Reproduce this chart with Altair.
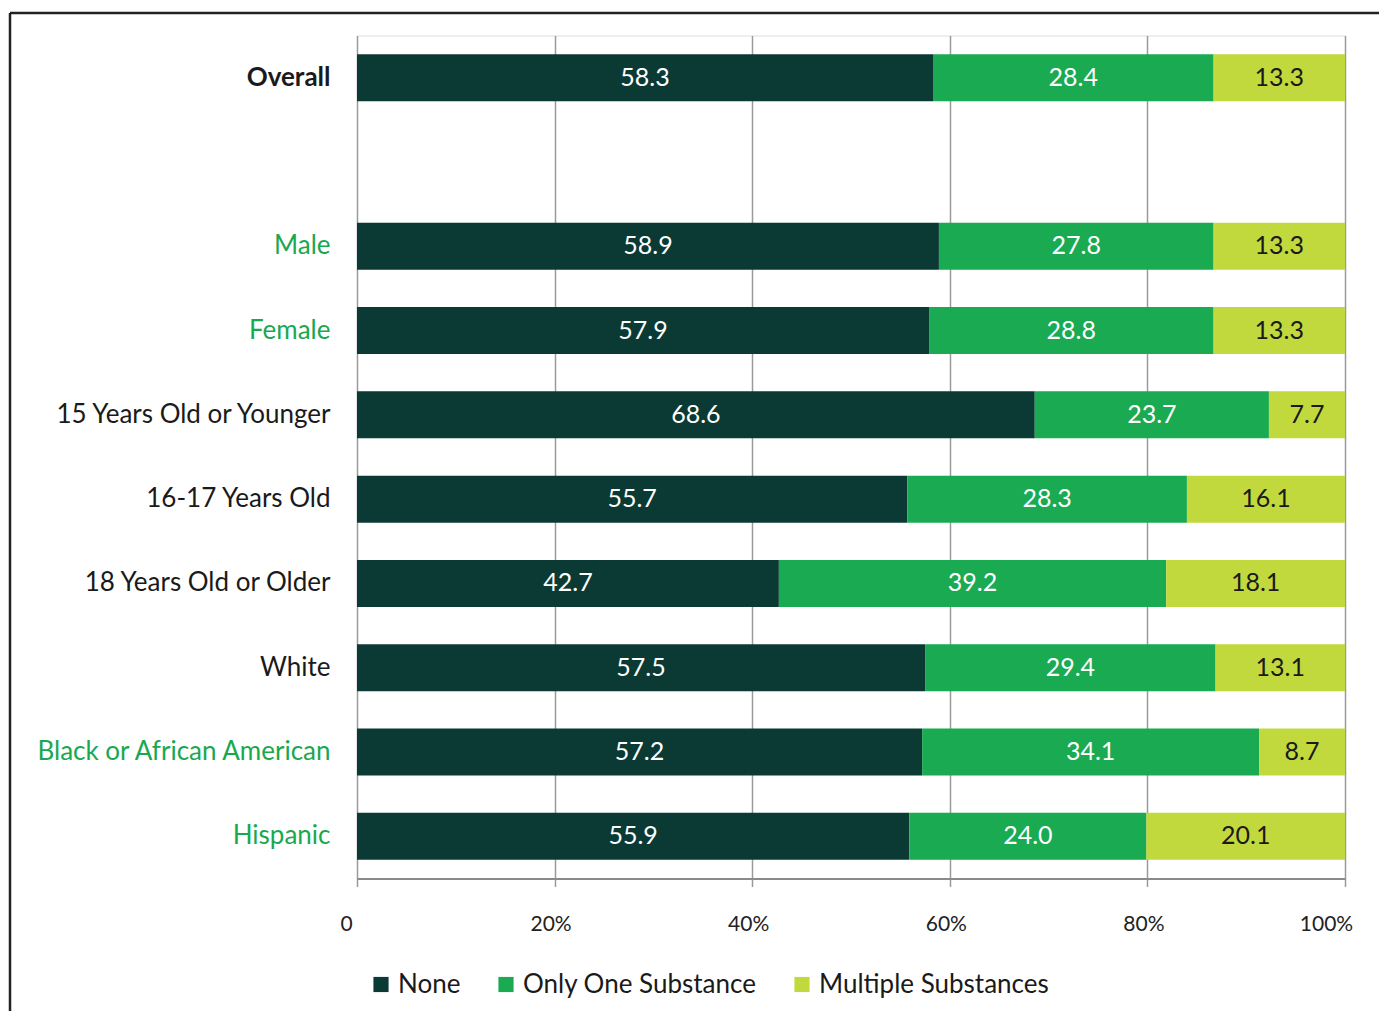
import altair as alt
import pandas as pd

categories = ["Overall", " ", "Male", "Female", "15 Years Old or Younger",
              "16-17 Years Old", "18 Years Old or Older", "White",
              "Black or African American", "Hispanic"]
data_categories = ["Overall", "Male", "Female", "15 Years Old or Younger",
                   "16-17 Years Old", "18 Years Old or Older", "White",
                   "Black or African American", "Hispanic"]
series = ["None", "Only One Substance", "Multiple Substances"]
none_vals = [58.3, 58.9, 57.9, 68.6, 55.7, 42.7, 57.5, 57.2, 55.9]
one_vals = [28.4, 27.8, 28.8, 23.7, 28.3, 39.2, 29.4, 34.1, 24.0]
multi_vals = [13.3, 13.3, 13.3, 7.7, 16.1, 18.1, 13.1, 8.7, 20.1]
tick_values = [0, 20, 40, 60, 80, 100]
colors = ["#0b3a35", "#19aa52", "#c2d93e"]
green_labels = ["Male", "Female", "Black or African American", "Hispanic"]

rows = []
for i, cat in enumerate(data_categories):
    for j, (s, vals) in enumerate(zip(series, [none_vals, one_vals, multi_vals])):
        rows.append({"category": cat, "type": s, "value": vals[i], "order": j})
df = pd.DataFrame(rows)

FONT = "Lato"

y_enc = alt.Y(
    "category:N",
    sort=categories,
    scale=alt.Scale(domain=categories, paddingInner=0.44, paddingOuter=0.22),
    axis=alt.Axis(
        title=None, domain=False, ticks=False, grid=False,
        labelFontSize=26, labelPadding=27, labelFont=FONT,
        labelLimit=400,
        labelColor=alt.condition(
            "indexof(" + str(green_labels) + ", datum.value) >= 0",
            alt.value("#1aa84f"), alt.value("#1a1a1a")),
        labelFontWeight=alt.condition(
            "datum.value == 'Overall'", alt.value("bold"), alt.value("normal")),
    ),
)

x_axis = alt.Axis(
    title=None, values=tick_values, labelFlush=False,
    labelExpr="datum.value == 0 ? '0' : datum.value + '%'",
    grid=True, gridColor="#9a9a9a", gridWidth=1.5,
    domainColor="#8a8a8a", domainWidth=2,
    tickColor="#9a9a9a", tickSize=8, tickWidth=1.5,
    labelFontSize=21, labelPadding=27, labelColor="#222222", labelFont=FONT,
    labelOffset={"condition": [{"test": "datum.value == 0", "value": -11},
                               {"test": "datum.value == 100", "value": -19}],
                 "value": -4},
)

bars = alt.Chart(df).mark_bar(clip=True, size=47).encode(
    x=alt.X("value:Q", stack="zero", scale=alt.Scale(domain=[0, 100]), axis=x_axis),
    y=y_enc,
    color=alt.Color(
        "type:N",
        scale=alt.Scale(domain=series, range=colors),
        legend=alt.Legend(
            title=None, orient="none", legendX=11, legendY=936,
            direction="horizontal", symbolType="square", symbolSize=230,
            symbolStrokeWidth=0, labelFontSize=26, labelFont=FONT, labelLimit=0,
            labelColor="#1a1a1a", columnPadding=32, labelOffset=4, padding=0,
        ),
    ),
    order=alt.Order("order:Q"),
)

labels = alt.Chart(df).transform_stack(
    stack="value", groupby=["category"], as_=["x0", "x1"],
    sort=[alt.SortField("order", order="ascending")],
).transform_calculate(
    mid="(datum.x0 + min(datum.x1, 100)) / 2"
).mark_text(fontSize=25, font=FONT, baseline="middle", align="center").encode(
    x=alt.X("mid:Q"),
    y=alt.Y("category:N", sort=categories),
    text=alt.Text("value:Q", format=".1f"),
    color=alt.condition(alt.datum.type == "Multiple Substances",
                        alt.value("#1a1a1a"), alt.value("white")),
)

frame_data = alt.Data(values=[{"k": 1}])
frame_top = alt.Chart(frame_data).mark_rule(color="#222222", strokeWidth=2.5).encode(
    x=alt.value(-347), x2=alt.value(1100), y=alt.value(-22.5))
frame_left = alt.Chart(frame_data).mark_rule(color="#222222", strokeWidth=2.5).encode(
    x=alt.value(-347), y=alt.value(-22.5), y2=alt.value(1100))

chart = alt.layer(bars, labels, frame_top, frame_left).properties(
    width=988, height=843,
    autosize=alt.AutoSizeParams(type="none"),
    padding={"left": 349, "top": 27.5, "right": 34, "bottom": 132},
).configure_view(stroke=None).configure(background="white")

chart.save("out.html", embed_options={"renderer": "svg", "actions": False})
